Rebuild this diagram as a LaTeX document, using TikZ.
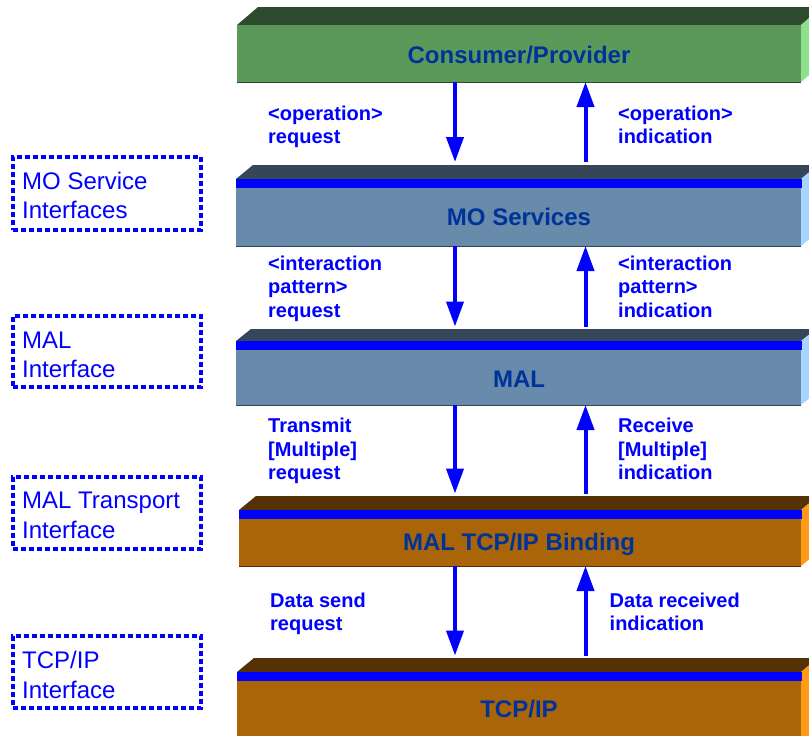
\documentclass[tikz,border=0pt]{standalone}
\usepackage{fontspec}
\setmainfont{Liberation Sans}
\usetikzlibrary{arrows.meta}

% slab palettes: front face, top face, side face
\definecolor{grnfront}{HTML}{5B995B}
\definecolor{grntop}{HTML}{2E4B2E}
\definecolor{grnside}{HTML}{8EE08E}
\definecolor{blufront}{HTML}{688AAB}
\definecolor{blutop}{HTML}{344658}
\definecolor{bluside}{HTML}{A8D4FF}
\definecolor{brnfront}{HTML}{AA6508}
\definecolor{brntop}{HTML}{543206}
\definecolor{brnside}{HTML}{FF9A18}
\definecolor{navy}{HTML}{003399}
\definecolor{pureblue}{HTML}{0000FF}

\newcommand\boxfont{\fontsize{24}{28}\selectfont\bfseries}
\newcommand\lblfont{\fontsize{20}{24}\selectfont\bfseries}
\newcommand\iffont{\fontsize{24}{30}\selectfont}

% a 3-D slab: #1 x left, #2 x right, #3 y of back edge, #4 y of front top,
% #5 y of bottom, #6 palette, #7 name of the front face
\newcommand\slab[7]{%
  \fill[#6top] (#1,#4) -- (#1+#4-#3+3,#3) -- (#2+#4-#3+3,#3) -- (#2,#4) -- cycle;
  \fill[#6side] (#2,#4) -- (#2+#4-#3+3,#3) -- (#2+#4-#3+3,#5+#3-#4) -- (#2,#5) -- cycle;
  \node[fill=#6front, inner sep=0, outer sep=0, anchor=north west,
        minimum width={(#2-#1)*1pt}, minimum height={(#5-#4)*1pt}] (#7) at (#1,#4) {};
  \draw[#6top, line width=0.8pt] (#7.south west) -- (#7.south east);
}
% blue band along the top of a front face
\newcommand\band[1]{%
  \fill[pureblue] (#1.north west) rectangle ([xshift=1pt,yshift=-8.5pt]#1.north east);
}

\tikzset{
  x=1pt, y=-1pt,
  flow/.style={draw=pureblue, line width=4pt,
    -{Triangle[width=17pt,length=25pt]}},
  slabtext/.style={anchor=base, font=\boxfont, text=navy, inner sep=0},
  lbl/.style={anchor=base west, font=\lblfont, text=pureblue, inner sep=0},
  ifbox/.style={draw=pureblue, line width=4.5pt, dash pattern=on 5pt off 3pt,
    minimum width=188pt, minimum height=73pt, anchor=north west,
    inner sep=0, outer sep=0},
  iftext/.style={anchor=base west, font=\iffont, text=pureblue, inner sep=0},
}

\begin{document}
\begin{tikzpicture}
\clip (0,0) rectangle (809,736);
\fill[white] (0,0) rectangle (809,736);

% layer slabs
\slab{237}{801}{7}{25}{82}{grn}{F1}
\slab{236}{801}{165}{179}{246}{blu}{F2}
\band{F2}
\slab{236}{801}{329}{341}{405}{blu}{F3}
\band{F3}
\slab{239}{801}{496}{510}{566}{brn}{F4}
\band{F4}
\slab{237}{801}{658}{672}{742}{brn}{F5}
\band{F5}

% layer names
\node[slabtext] (T1) at (519,63) {Consumer/Provider};
\node[slabtext] (T2) at (519,225.5) {MO Services};
\node[slabtext] (T3) at (519,387) {MAL};
\node[slabtext] (T4) at (519,550) {MAL TCP/IP Binding};
\node[slabtext] (T5) at (519,717) {TCP/IP};

% arrow columns and stop points above each slab
\coordinate (dn) at (455,0);
\coordinate (up) at (585.5,0);
\coordinate (S2) at (0,162);
\coordinate (S3) at (0,326.5);
\coordinate (S4) at (0,493.5);
\coordinate (S5) at (0,655.5);

\draw[flow] (F1.south -| dn) -- (S2 -| dn);
\draw[flow] (S2 -| up) -- (F1.south -| up);
\draw[flow] (F2.south -| dn) -- (S3 -| dn);
\draw[flow] (S3 -| up) -- (F2.south -| up);
\draw[flow] (F3.south -| dn) -- (S4 -| dn);
\draw[flow] (S4 -| up) -- (F3.south -| up);
\draw[flow] (F4.south -| dn) -- (S5 -| dn);
\draw[flow] (S5 -| up) -- (F4.south -| up);

% primitive labels
\node[lbl] (a1) at (268,120) {<operation>};
\node[lbl] (a2) at (268,143.5) {request};
\node[lbl] (b1) at (618,120) {<operation>};
\node[lbl] (b2) at (618,143.5) {indication};

\node[lbl] (c1) at (268,270) {<interaction};
\node[lbl] (c2) at (268,293.5) {pattern>};
\node[lbl] (c3) at (268,317) {request};
\node[lbl] (d1) at (618,270) {<interaction};
\node[lbl] (d2) at (618,293.5) {pattern>};
\node[lbl] (d3) at (618,317) {indication};

\node[lbl] (e1) at (268,432.5) {Transmit};
\node[lbl] (e2) at (268,456) {[Multiple]};
\node[lbl] (e3) at (268,479.5) {request};
\node[lbl] (f1) at (618,432.5) {Receive};
\node[lbl] (f2) at (618,456) {[Multiple]};
\node[lbl] (f3) at (618,479.5) {indication};

\node[lbl] (g1) at (270,607) {Data send};
\node[lbl] (g2) at (270,630.5) {request};
\node[lbl] (h1) at (609.5,607) {Data received};
\node[lbl] (h2) at (609.5,630.5) {indication};

% interface frames
\node[ifbox] (I1) at (13,157) {};
\node[iftext] (I1a) at (22,189) {MO Service};
\node[iftext] (I1b) at (22,218.5) {Interfaces};

\node[ifbox, minimum height=71pt] (I2) at (13,316) {};
\node[iftext] (I2a) at (22,348) {MAL};
\node[iftext] (I2b) at (22,377) {Interface};

\node[ifbox, minimum height=72pt] (I3) at (13,477) {};
\node[iftext] (I3a) at (22,508) {MAL Transport};
\node[iftext] (I3b) at (22,538) {Interface};

\node[ifbox, minimum height=72pt] (I4) at (13,636) {};
\node[iftext] (I4a) at (22,668.5) {TCP/IP};
\node[iftext] (I4b) at (22,698) {Interface};
\end{tikzpicture}
\end{document}
